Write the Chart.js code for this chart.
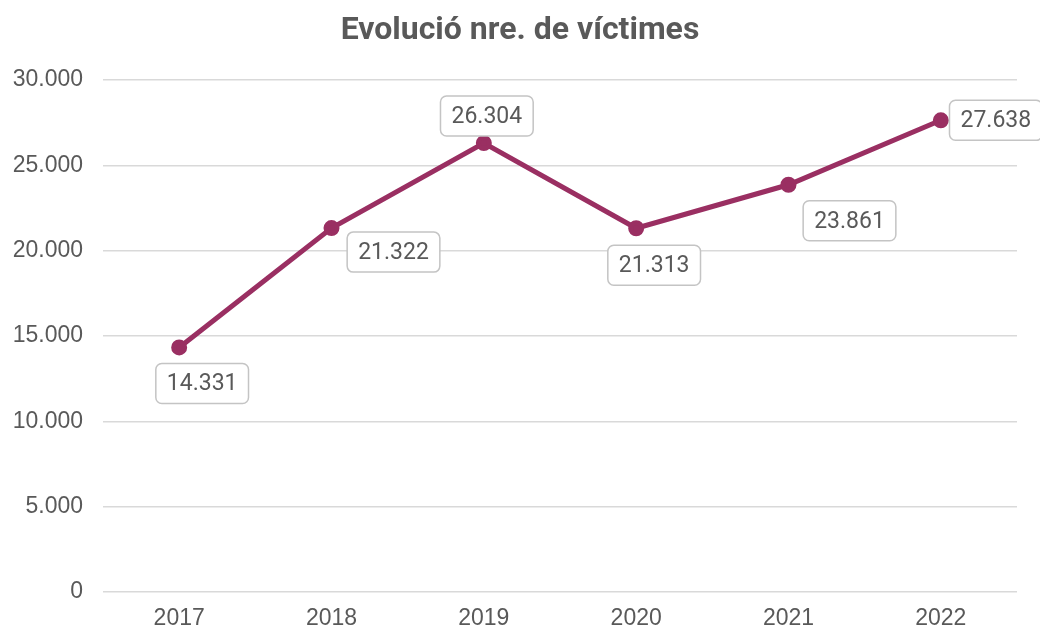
<!DOCTYPE html>
<html>
<head>
<meta charset="utf-8">
<script src="https://cdn.jsdelivr.net/npm/chart.js@4"></script>
<style>
  body { margin: 0; background: #fff; }
</style>
</head>
<body>
<canvas id="chart" width="1040" height="630"></canvas>
<script>
const title = 'Evolució nre. de víctimes';
const years = ['2017', '2018', '2019', '2020', '2021', '2022'];
const victims = [14331, 21322, 26304, 21313, 23861, 27638];
const yTicks = [0, 5000, 10000, 15000, 20000, 25000, 30000];

// where each value label sits relative to its point (px)
const labelOffsets = [[23, 36], [62, 24], [3, -27], [18, 37], [61, 36], [55, 0]];

const fmt = v => v.toLocaleString('de-DE');

// title centred on the whole canvas, not on the padded box
const pageTitle = {
    id: 'pageTitle',
    afterDraw(chart) {
        const ctx = chart.ctx;
        ctx.save();
        ctx.font = 'bold 32px Roboto';
        ctx.fillStyle = '#595959';
        ctx.textAlign = 'center';
        ctx.textBaseline = 'middle';
        ctx.fillText(title, chart.width / 2, 31);
        ctx.restore();
    }
};

const valueLabels = {
    id: 'valueLabels',
    afterDatasetsDraw(chart) {
        const ctx = chart.ctx;
        const meta = chart.getDatasetMeta(0);
        ctx.save();
        ctx.font = '23px Roboto';
        ctx.textAlign = 'center';
        ctx.textBaseline = 'middle';
        meta.data.forEach((pt, i) => {
            const txt = fmt(victims[i]);
            const cx = pt.x + labelOffsets[i][0];
            const cy = pt.y + labelOffsets[i][1];
            const w = ctx.measureText(txt).width + 22;
            const h = 40;
            ctx.beginPath();
            ctx.roundRect(cx - w / 2, cy - h / 2, w, h, 6);
            ctx.fillStyle = '#fff';
            ctx.fill();
            ctx.lineWidth = 1.5;
            ctx.strokeStyle = '#c4c4c4';
            ctx.stroke();
            ctx.fillStyle = '#595959';
            ctx.fillText(txt, cx, cy + 1);
        });
        ctx.restore();
    }
};

new Chart(document.getElementById('chart'), {
    type: 'line',
    data: {
        labels: years,
        datasets: [{
            data: victims,
            borderColor: '#9a2f62',
            backgroundColor: '#9a2f62',
            borderWidth: 5,
            pointRadius: 5.5,
            pointHoverRadius: 5.5,
            tension: 0
        }]
    },
    options: {
        responsive: false,
        animation: false,
        layout: { padding: { left: 0, right: 23, top: 80, bottom: 0 } },
        plugins: {
            legend: { display: false },
            tooltip: { enabled: false },
            title: { display: false }
        },
        scales: {
            x: {
                offset: true,
                afterFit(scale) { scale.height = 38; },
                grid: { display: false },
                border: { display: false },
                ticks: {
                    color: '#595959',
                    font: { family: 'Liberation Sans', size: 23 },
                    padding: 5
                }
            },
            y: {
                min: 0,
                max: 30000,
                afterFit(scale) { scale.width = 103; },
                afterBuildTicks(scale) { scale.ticks = yTicks.map(v => ({ value: v })); },
                grid: { color: '#d9d9d9', lineWidth: 1.5, drawTicks: false },
                border: { display: false },
                ticks: {
                    color: '#595959',
                    font: { family: 'Liberation Sans', size: 23 },
                    padding: 20,
                    callback: v => fmt(v)
                }
            }
        }
    },
    plugins: [valueLabels, pageTitle]
});
</script>
</body>
</html>
